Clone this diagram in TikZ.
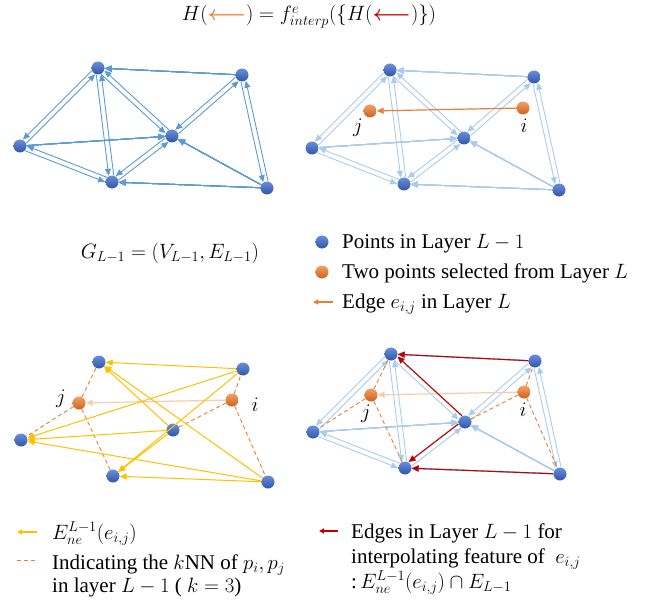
\documentclass[tikz,border=0pt]{standalone}
\usepackage{amsmath}
\usepackage{fontspec}
\setmainfont{Liberation Serif}
\usetikzlibrary{arrows.meta,calc,shadings}
\definecolor{ptbluetop}{RGB}{104,142,218}
\definecolor{ptbluebot}{RGB}{50,86,168}
\definecolor{ptorangetop}{RGB}{244,160,100}
\definecolor{ptorangebot}{RGB}{204,98,32}
\definecolor{edgeblue}{RGB}{91,155,213}
\definecolor{edgelight}{RGB}{170,204,236}
\definecolor{ptorange}{RGB}{237,125,49}
\definecolor{fadeorange}{RGB}{248,203,173}
\definecolor{ptyellow}{RGB}{255,192,0}
\definecolor{ptred}{RGB}{192,0,0}
\newcommand\halfedge[3]{\draw[#1] ($(#2)!2.5pt!-90:(#3)$) -- ($(#3)!2.5pt!90:(#2)$);}
\newcommand\twoedge[3]{\halfedge{#1}{#2}{#3}\halfedge{#1}{#3}{#2}}
\begin{document}
\begin{tikzpicture}[x=1pt,y=-1pt,
  every node/.style={font=\fontsize{21}{27}\selectfont,inner sep=1pt},
  bpt/.style={circle,inner sep=0pt,minimum size=13pt,top color=ptbluetop,bottom color=ptbluebot},
  opt/.style={circle,inner sep=0pt,minimum size=13pt,top color=ptorangetop,bottom color=ptorangebot},
  tip/.style={-{Triangle[length=7pt,width=6pt]}},
  edge/.style={tip,line width=0.9pt},
  off/.style={shorten <=6.5pt,shorten >=6.5pt},
  yel/.style={tip,ptyellow,line width=1pt},
  rededge/.style={tip,ptred,line width=1.1pt},
  knn/.style={ptorange,line width=0.9pt,dash pattern=on 4pt off 3pt},
  small/.style={-{Triangle[length=5pt,width=5pt]},line width=1.2pt}]
\useasboundingbox (0,0) rectangle (650,604);

\foreach \pn/\dx/\dy in {1/0/0,2/292/2,3/1/294,4/293/286}{
  \begin{scope}[shift={(\dx,\dy)}]
    \foreach \nm/\x/\y in {A/98/68,B/242/75,C/20/146,D/172/136,E/112/182,F/267/188}
      \node[bpt] (\nm\pn) at (\x,\y) {};
  \end{scope}}
\foreach \pn/\dx/\dy in {2/292/2,3/1/294,4/293/286}{
  \begin{scope}[shift={(\dx,\dy)}]
    \node[opt] (j\pn) at (78,109) {};
    \node[opt] (i\pn) at (231,106) {};
  \end{scope}}

\foreach \pn/\c in {1/edgeblue,2/edgelight,4/edgelight}{
  \foreach \ea/\eb in {A/C,A/E,A/D,B/D,B/F,C/E,D/E}
    \twoedge{edge,off,color=\c}{\ea\pn}{\eb\pn}
  \foreach \ea/\eb in {B/A,C/D,F/D,F/E}
    \draw[edge,color=\c] (\ea\pn) -- (\eb\pn);
}

\draw[tip,ptorange,line width=1.2pt] (i2) -- (j2);
\foreach \pn in {3,4}{
  \draw[tip,fadeorange,line width=1.2pt] (i\pn) -- (j\pn);
  \foreach \eb in {B,D,F} \draw[knn] (i\pn) -- (\eb\pn);
  \foreach \eb in {A,C,E} \draw[knn] (j\pn) -- (\eb\pn);
}
\foreach \ea in {B,D,F}
  \foreach \eb in {A,C,E}
    \draw[yel] (\ea3) -- (\eb3);

\draw[rededge] (B4) -- (A4);
\draw[rededge] (F4) -- (E4);
\halfedge{rededge,off}{D4}{A4}
\halfedge{rededge,off}{D4}{E4}

\node (lj2) at (358,128) {$j$};
\node (li2) at (524,126) {$i$};
\node (lj3) at (61,399) {$j$};
\node (li3) at (255,405) {$i$};
\node (lj4) at (366,414) {$j$};
\node (li4) at (523,410) {$i$};

\node (title) at (309,17) {$H(\textcolor{ptorange}{\boldsymbol\longleftarrow}) = f^{e}_{interp}(\{H(\textcolor{ptred}{\boldsymbol\longleftarrow})\})$};
\node (glabel) at (170,253) {$G_{L-1} = (V_{L-1}, E_{L-1})$};

\node[bpt] (keyblue) at (322,242) {};
\node[anchor=base west] (txtblue) at (341,248) {Points in Layer $L-1$};
\node[opt] (keyorange) at (322,272) {};
\node[anchor=base west] (txtorange) at (341,278) {Two points selected from Layer $L$};
\coordinate (ka1) at (333,302);
\coordinate (ka2) at (313,302);
\draw[small,ptorange] (ka1) -- (ka2);
\node[anchor=base west] (txtedge) at (341,308) {Edge $e_{i,j}$ in Layer $L$};

\coordinate (ky1) at (37,532);
\coordinate (ky2) at (17,532);
\draw[small,ptyellow] (ky1) -- (ky2);
\node[anchor=base west] (txtyel) at (51,539) {$E_{ne}^{L-1}(e_{i,j})$};
\coordinate (kd1) at (17,560);
\coordinate (kd2) at (37,560);
\draw[knn] (kd1) -- (kd2);
\node[anchor=base west] (txtknn) at (51,569) {Indicating the $k$NN of $p_i, p_j$};
\node[anchor=base west] (txtknn2) at (51,592) {in layer $L-1$ ( $k=3$)};
\coordinate (kr1) at (338,531);
\coordinate (kr2) at (319,531);
\draw[small,ptred] (kr1) -- (kr2);
\node[anchor=base west] (txtred) at (350,538) {Edges in Layer $L-1$ for};
\node[anchor=base west] (txtred2) at (350,563) {interpolating feature of \ $e_{i,j}$};
\node[anchor=base west] (txtred3) at (350,588) {:$\,E_{ne}^{L-1}(e_{i,j}) \cap E_{L-1}$};
\end{tikzpicture}
\end{document}
